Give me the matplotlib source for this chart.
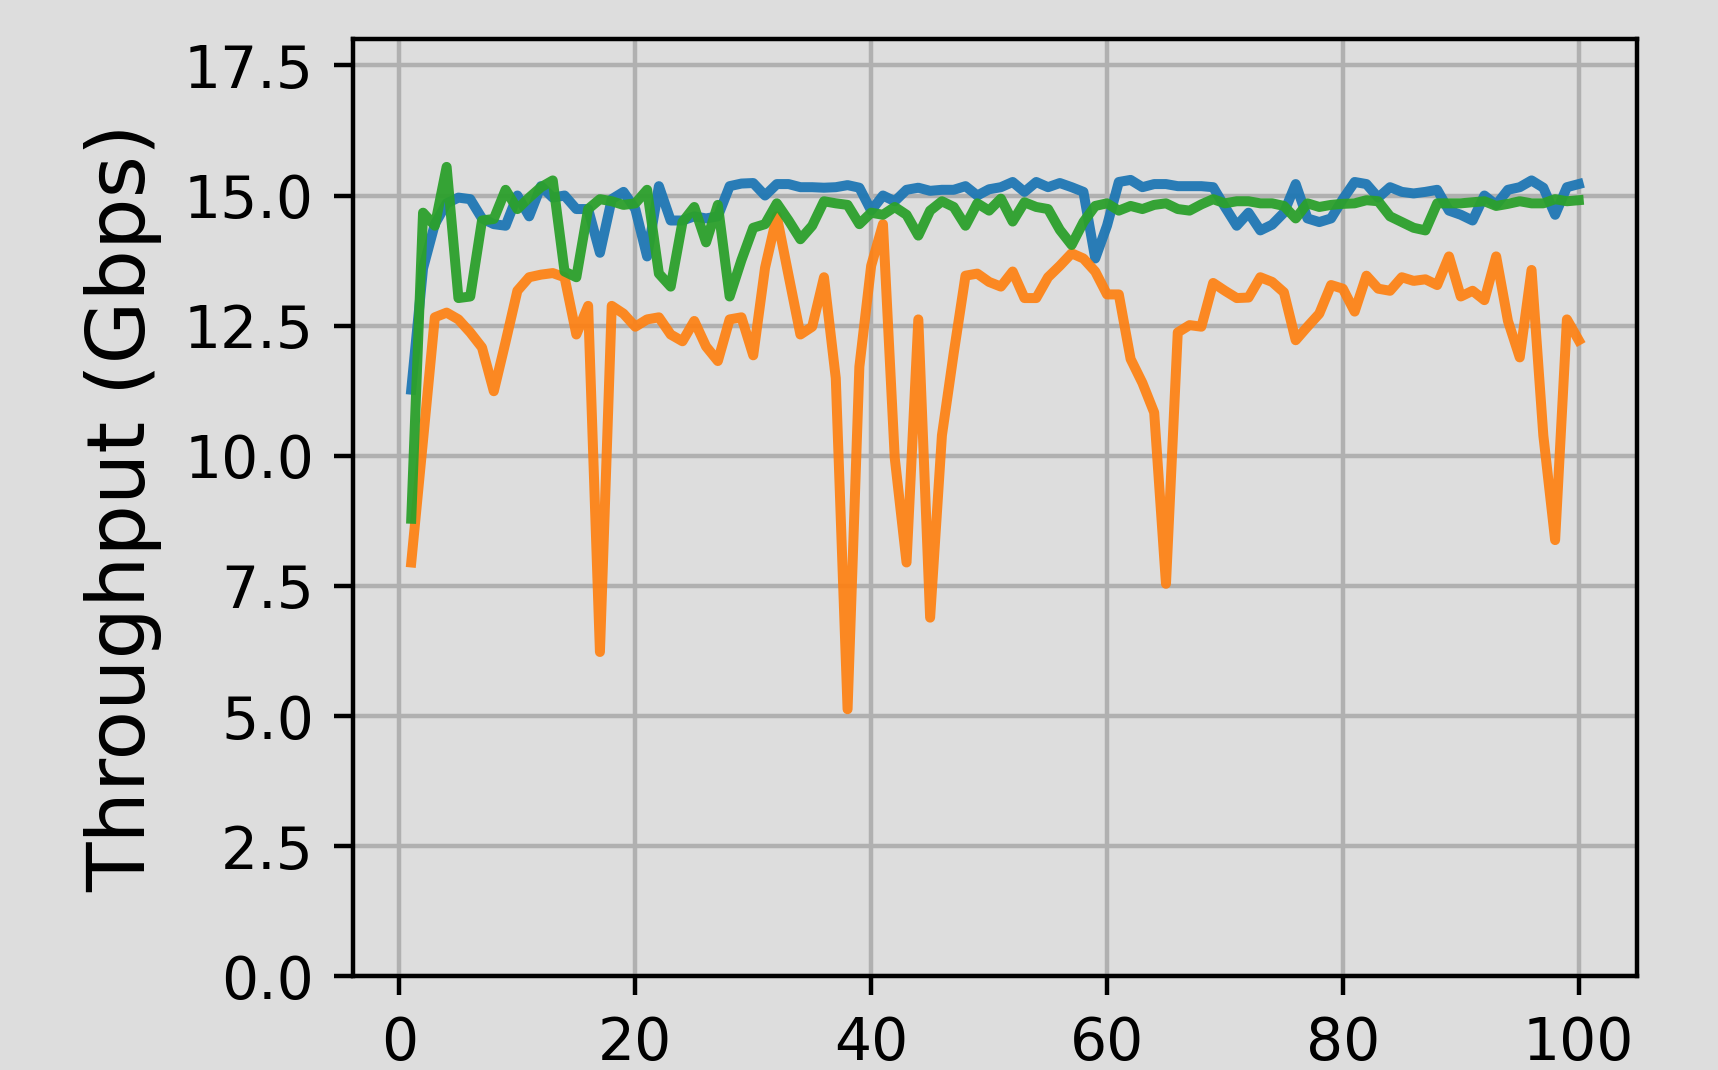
import matplotlib
matplotlib.use("Agg")
import matplotlib.pyplot as plt
import numpy as np

# iteration index 1..100
steps = np.arange(1, 101)

# throughput per run (Gbps)
blue = [11.27, 13.6, 14.45, 14.85, 14.96, 14.93, 14.56, 14.45, 14.42, 15.0,
        14.6, 15.18, 14.96, 15.0, 14.74, 14.74, 13.9, 14.93, 15.07, 14.74,
        13.83, 15.18, 14.52, 14.52, 14.6, 14.56, 14.6, 15.18, 15.23, 15.24,
        15.0, 15.22, 15.22, 15.16, 15.16, 15.15, 15.16, 15.2, 15.15, 14.71,
        15.0, 14.89, 15.11, 15.15, 15.09, 15.11, 15.11, 15.18, 15.0, 15.12,
        15.16, 15.26, 15.07, 15.26, 15.16, 15.24, 15.16, 15.07, 13.79, 14.42,
        15.26, 15.3, 15.16, 15.22, 15.22, 15.18, 15.18, 15.18, 15.16, 14.78,
        14.42, 14.67, 14.33, 14.44, 14.67, 15.22, 14.56, 14.49, 14.56, 14.93,
        15.26, 15.22, 14.96, 15.16, 15.07, 15.04, 15.07, 15.11, 14.71, 14.63,
        14.52, 15.0, 14.82, 15.11, 15.16, 15.29, 15.15, 14.63, 15.16, 15.22]

orange = [7.95, 10.3, 12.66, 12.75, 12.62, 12.37, 12.08, 11.24, 12.19, 13.17,
          13.43, 13.48, 13.51, 13.43, 12.33, 12.88, 6.23, 12.88, 12.73, 12.48,
          12.62, 12.66, 12.33, 12.2, 12.59, 12.1, 11.82, 12.62, 12.66, 11.93,
          13.61, 14.6, 13.46, 12.33, 12.48, 13.43, 11.49, 5.13, 11.71, 13.65,
          14.45, 9.96, 7.95, 12.62, 6.89, 10.39, 11.97, 13.46, 13.5, 13.34,
          13.25, 13.54, 13.03, 13.03, 13.43, 13.65, 13.89, 13.79, 13.54, 13.1,
          13.1, 11.86, 11.4, 10.83, 7.54, 12.37, 12.51, 12.48, 13.32, 13.17,
          13.03, 13.04, 13.43, 13.34, 13.14, 12.22, 12.48, 12.73, 13.28, 13.21,
          12.77, 13.46, 13.21, 13.17, 13.43, 13.36, 13.39, 13.28, 13.83, 13.06,
          13.17, 12.99, 13.83, 12.59, 11.89, 13.57, 10.39, 8.38, 12.62, 12.22]

green = [8.79, 14.67, 14.42, 15.55, 13.03, 13.06, 14.52, 14.55, 15.11, 14.74,
         14.96, 15.16, 15.29, 13.54, 13.43, 14.74, 14.93, 14.89, 14.82, 14.85,
         15.11, 13.5, 13.25, 14.49, 14.78, 14.1, 14.82, 13.06, 13.76, 14.38,
         14.45, 14.85, 14.52, 14.16, 14.42, 14.89, 14.85, 14.82, 14.45, 14.67,
         14.63, 14.78, 14.63, 14.23, 14.71, 14.89, 14.78, 14.42, 14.85, 14.71,
         14.94, 14.5, 14.87, 14.78, 14.74, 14.34, 14.05, 14.49, 14.8, 14.85,
         14.71, 14.8, 14.74, 14.82, 14.85, 14.74, 14.71, 14.83, 14.93, 14.85,
         14.89, 14.89, 14.85, 14.85, 14.8, 14.56, 14.85, 14.78, 14.82, 14.84,
         14.85, 14.91, 14.89, 14.6, 14.49, 14.38, 14.33, 14.85, 14.85, 14.85,
         14.87, 14.89, 14.8, 14.84, 14.89, 14.85, 14.85, 14.93, 14.89, 14.91]

bg = "#dddddd"

fig = plt.figure(figsize=(4.295, 2.675), dpi=400, facecolor=bg)
ax = fig.add_axes([0.2054, 0.0876, 0.7475, 0.8756])
ax.set_facecolor(bg)

ax.plot(steps, blue, color="tab:blue", lw=1.8, alpha=0.95)
ax.plot(steps, orange, color="tab:orange", lw=1.8, alpha=0.9)
ax.plot(steps, green, color="tab:green", lw=1.8, alpha=0.95)

ax.set_ylim(0, 18)
ax.set_yticks(np.arange(0, 17.6, 2.5))
ax.set_xticks([0, 20, 40, 60, 80, 100])
ax.tick_params(labelsize=10.5)
ax.grid(True)
ax.set_ylabel("Throughput (Gbps)", fontsize=14.6)

fig.savefig("out.png", dpi=400, facecolor=bg)
